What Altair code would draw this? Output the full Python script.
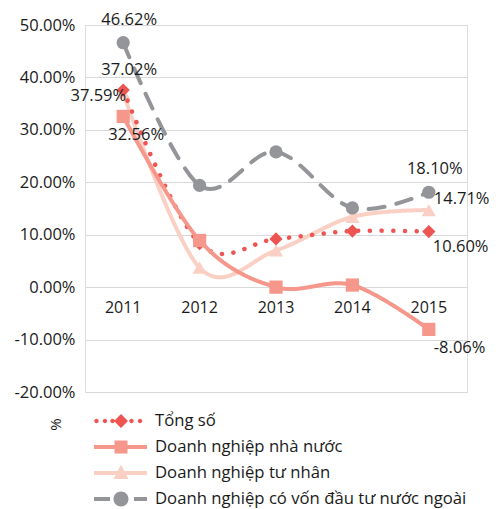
import altair as alt
import pandas as pd

years = ["2011", "2012", "2013", "2014", "2015"]
series_names = ["Tổng số", "Doanh nghiệp nhà nước", "Doanh nghiệp tư nhân",
                "Doanh nghiệp có vốn đầu tư nước ngoài"]
tong_so = [37.59, 8.3, 9.2, 10.7, 10.60]
nha_nuoc = [32.56, 8.9, 0.0, 0.4, -8.06]
tu_nhan = [37.02, 3.7, 7.0, 13.4, 14.71]
fdi = [46.62, 19.4, 25.8, 15.1, 18.10]
y_ticks = [-20, -10, 0, 10, 20, 30, 40, 50]

# data labels: which series / year, and where the label sits
label_series = [3, 2, 0, 1, 3, 2, 0, 1]
label_years = ["2011", "2011", "2011", "2011", "2015", "2015", "2015", "2015"]
label_place = ["above", "above", "left", "below", "above", "right_up", "right_down", "right_down2"]

colors = ["#EE5451", "#F5978A", "#FAD0C5", "#939598"]
shapes = ["diamond", "square", "triangle-up", "circle"]
dashes = [[0.1, 11.5], [1, 0], [1, 0], [16, 12]]
widths = [4.5, 4, 4, 4]

all_values = [tong_so, nha_nuoc, tu_nhan, fdi]
rows = []
for si, vals in enumerate(all_values):
    for yi, yr in enumerate(years):
        rows.append({"series": series_names[si], "year": yr, "value": vals[yi]})
df = pd.DataFrame(rows)

lab_rows = []
for s, yr, p in zip(label_series, label_years, label_place):
    lab_rows.append({"series": series_names[s], "year": yr,
                     "value": all_values[s][years.index(yr)], "place": p})
ldf = pd.DataFrame(lab_rows)
ydf = pd.DataFrame({"year": years})

FONT = "Open Sans"
TXT = "#1a1a1a"
PCT = "replace(format({v}, '.2f'), '\u2212', '-') + '%'"

x_enc = alt.X("year:N", scale=alt.Scale(type="point", padding=0.5, domain=years), axis=None)
y_enc = alt.Y("value:Q",
              scale=alt.Scale(domain=[-20, 50], nice=False, zero=False),
              axis=alt.Axis(values=y_ticks,
                            labelExpr=PCT.format(v="datum.value"),
                            grid=True, gridColor="#D9D9D9", gridWidth=1,
                            domain=False, ticks=False, labelPadding=10,
                            labelFontSize=16.5, labelColor=TXT, labelFont=FONT,
                            title="%", titleFont=FONT, titleFontSize=15,
                            titleFontWeight="normal", titleColor=TXT,
                            titleAngle=270, titleX=-30, titleY=399,
                            titleAlign="center", titleBaseline="middle"))


def circ(x, y, r):
    return f"M{x - r},{y}a{r},{r} 0 1,1 {2 * r},0a{r},{r} 0 1,1 {-2 * r},0Z"


def rect(x0, x1, h):
    return f"M{x0},{-h}H{x1}V{h}H{x0}Z"


legend_paths = [
    "".join(circ(x, 0, 0.22) for x in [-2.45, -1.6, -0.85, 1.05, 1.9])
    + "M0,-0.7L0.7,0L0,0.7L-0.7,0Z",
    rect(-2.7, 2.6, 0.2) + "M-0.65,-0.65H0.65V0.65H-0.65Z",
    rect(-2.7, 2.6, 0.2) + "M0,-0.85L0.75,0.6L-0.75,0.6Z",
    rect(-2.7, -1.1, 0.2) + rect(1.3, 2.6, 0.2) + circ(0, 0, 0.75),
]

base = alt.Chart(df)
layers = []
draw_order = [2, 0, 1, 3]
for si in draw_order:
    name = series_names[si]
    sub = base.transform_filter(alt.datum.series == name)
    line = sub.mark_line(interpolate="cardinal", color=colors[si], strokeWidth=widths[si],
                         strokeDash=dashes[si], strokeCap="round").encode(x=x_enc, y=y_enc)
    pts = sub.mark_point(filled=True, shape=shapes[si], size=175 if si != 2 else 200,
                         color=colors[si], opacity=1).encode(x=x_enc, y=y_enc)
    layers += [line, pts]

leg = alt.Legend(title=None, orient="none", legendX=26, legendY=386, symbolSize=400,
                 labelOffset=24, rowPadding=7, labelFontSize=16.7, labelColor=TXT,
                 labelFont=FONT, labelLimit=500, symbolStrokeWidth=0, padding=0,
                 symbolOpacity=1)
legend_layer = base.transform_filter("datum.value > 1000").mark_point(filled=True, opacity=1).encode(
    x=x_enc, y=y_enc,
    color=alt.Color("series:N", scale=alt.Scale(domain=series_names, range=colors), legend=leg),
    shape=alt.Shape("series:N", scale=alt.Scale(domain=series_names, range=legend_paths), legend=leg),
)
layers.append(legend_layer)

placements = {
    "above": dict(align="center", dx=6, dy=-23),
    "left": dict(align="right", dx=3, dy=6),
    "below": dict(align="center", dx=13, dy=19),
    "right_up": dict(align="left", dx=5, dy=-11),
    "right_down": dict(align="left", dx=4, dy=15),
    "right_down2": dict(align="left", dx=5, dy=19),
}
lbase = alt.Chart(ldf).transform_calculate(lab=PCT.format(v="datum.value"))
for p, kw in placements.items():
    layers.append(lbase.transform_filter(alt.datum.place == p).mark_text(
        baseline="middle", fontSize=16.5, font=FONT, color=TXT, **kw
    ).encode(x=x_enc, y=y_enc, text="lab:N"))

year_labels = alt.Chart(ydf).mark_text(baseline="middle", fontSize=16, font=FONT, color=TXT, dy=21).encode(
    x=x_enc, y=alt.datum(0), text="year:N")
layers.append(year_labels)

chart = alt.layer(*layers).properties(
    width=382, height=367,
    autosize=alt.AutoSizeParams(type="none"),
    padding={"left": 77, "top": 17, "right": 23, "bottom": 117},
).configure_view(stroke=None).configure(font=FONT)

chart.save("out.html", embed_options={"renderer": "svg", "actions": False})
